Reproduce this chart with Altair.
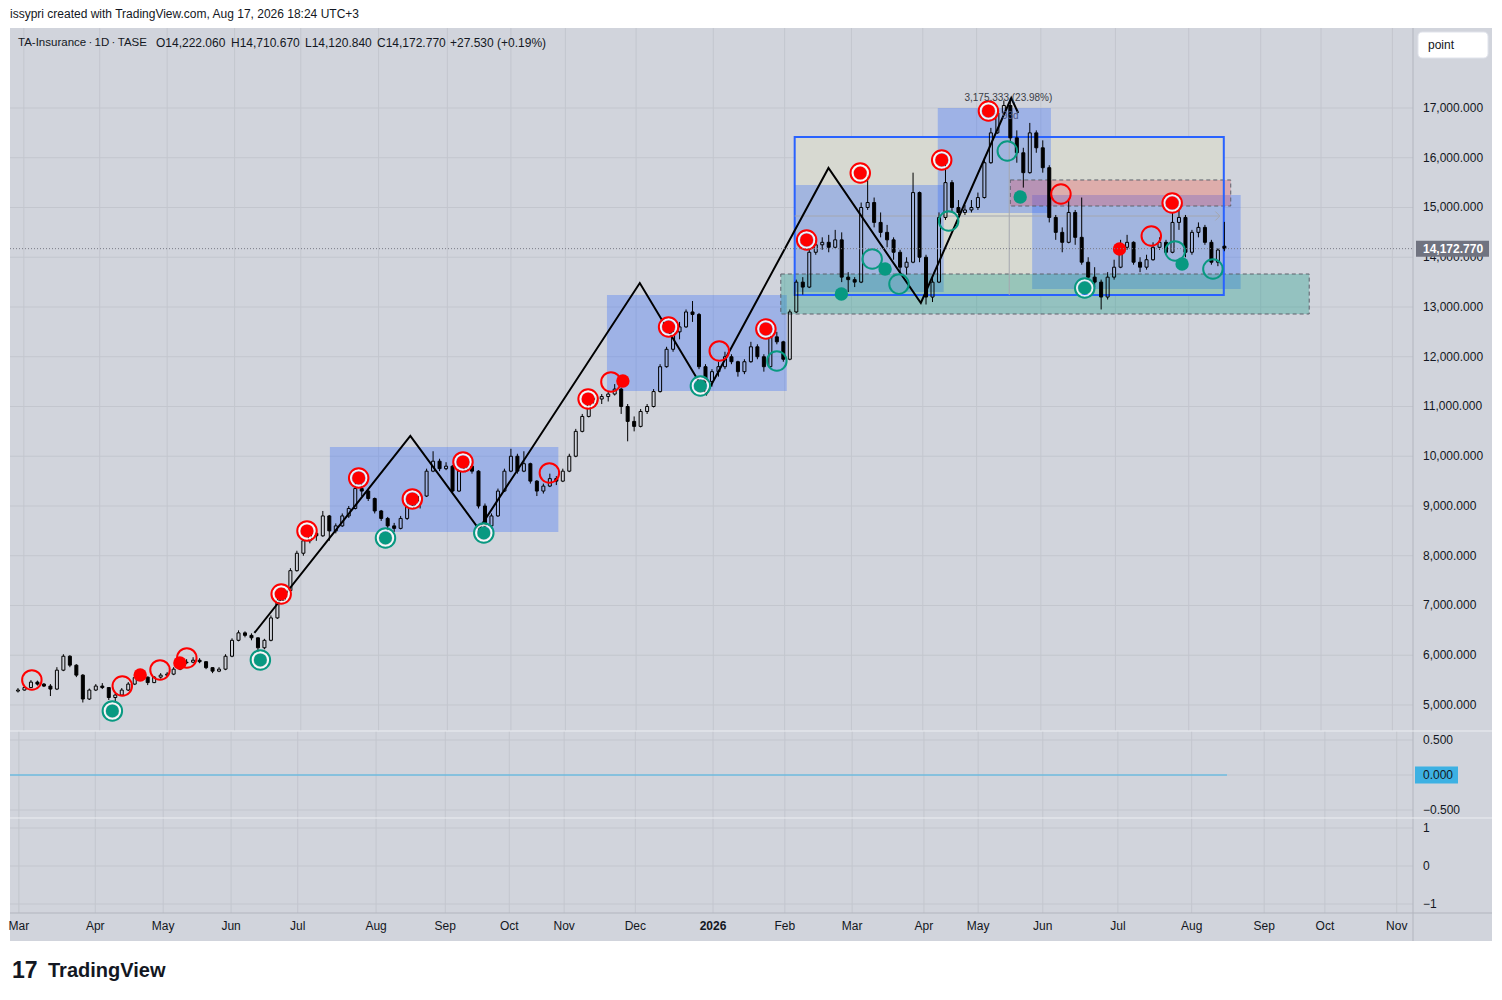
import altair as alt
import pandas as pd

FONT = "Liberation Sans"
BG = "#d1d4dc"
GRID = "#c3c6ce"
TXT = "#131722"
RED = "#ff0000"
TEAL = "#089981"
SEP = "#b2b5be"

W = 1482
H_MAIN = 703
H_P2 = 87
H_P3 = 123
AXIS_X = 1403
LABEL_X = 1413

# ---------------- candles (one candle per ~2 sessions) ----------------
opens = [5280,5300,5350,5460,5420,5380,5320,5700,5980,5800,
5600,5120,5300,5380,5350,5150,5200,5300,5420,5550,
5560,5450,5560,5600,5620,5720,5850,5860,5900,5870,
5750,5680,5720,5980,6300,6450,6400,6350,6150,6300,
6750,7100,7300,7700,8050,8300,8450,8400,8800,8500,
8600,8800,8950,9350,9300,9150,8900,8750,8600,8550,
8750,9000,9100,9200,9700,9900,9750,9800,9300,9700,
9800,9700,9000,8600,8800,9300,9700,10000,9700,9850,
9500,9300,9400,9550,9500,9700,10000,10500,10800,11050,
11150,11200,11250,11350,11000,10700,10600,10900,11000,11300,
11800,12150,12500,12600,12900,12850,11800,11500,11700,11800,
12000,11900,11700,11900,12200,12000,11800,12400,12300,11950,
12900,13500,13400,14100,14250,14300,14200,14350,13600,13550,
13500,15000,15100,14700,14500,14350,14100,13800,13900,15300,
14000,13200,13500,14800,15500,15000,14900,14950,15000,15200,
15900,16500,16900,17050,16400,16100,15700,16500,16200,15800,
14800,14500,14300,14900,14400,13900,13600,13500,13200,13600,
13800,14200,14300,13900,13800,13950,14200,14300,14100,14700,
14800,14100,14500,14600,14300,13900,14222.06]

highs = [5340,5380,5500,5490,5440,5420,5760,6020,6000,5820,
5620,5330,5420,5440,5360,5240,5340,5460,5580,5600,
5570,5580,5640,5660,5760,5880,5920,5960,5940,5880,
5760,5760,6020,6340,6500,6480,6440,6360,6330,6800,
7150,7350,7750,8100,8350,8500,8480,8900,8820,8650,
8850,9000,9600,9450,9320,9170,8920,8780,8660,8800,
9050,9150,9250,9750,10100,9950,9880,9820,9750,9900,
9850,9720,9050,8850,9350,9750,10150,10050,10100,9870,
9520,9450,9650,9600,9750,10050,10550,10850,11100,11200,
11250,11300,11450,11380,11050,10800,10950,11050,11350,11850,
12200,12550,12700,12950,13120,12880,11850,11750,11900,12100,
12050,11920,11950,12300,12250,12050,12450,12500,12320,12950,
13550,13600,14150,14350,14400,14450,14550,14500,13700,13600,
15100,15650,15200,14900,14650,14400,14150,14000,15700,15320,
14050,13600,14900,15900,15550,15150,15050,15150,15300,16000,
16600,17000,17150,17200,16550,16200,16700,16550,16350,15850,
14850,14600,15150,14950,15200,14000,13800,13550,13700,13950,
14350,14450,14320,14000,14050,14300,14400,14350,14900,15000,
14850,14550,14700,14650,14350,14180,14710.67]

lows = [5250,5290,5340,5390,5360,5180,5300,5680,5760,5560,
5050,5100,5280,5320,5100,5080,5180,5280,5400,5500,
5400,5440,5530,5560,5600,5700,5820,5840,5840,5720,
5640,5660,5700,5960,6280,6360,6300,6050,6120,6280,
6730,7080,7280,7680,8000,8250,8300,8380,8300,8450,
8580,8760,8930,9200,9100,8850,8700,8500,8480,8530,
8720,8950,8950,9180,9680,9700,9720,9250,9280,9680,
9650,8950,8500,8550,8780,9280,9680,9650,9680,9450,
9200,9250,9380,9420,9480,9680,9980,10480,10780,11000,
11050,11100,11220,10850,10300,10500,10580,10850,10980,11280,
11780,12100,12350,12580,12700,11750,11350,11400,11600,11750,
11850,11600,11650,11880,11950,11700,11780,12250,11900,11930,
12880,13250,13380,14050,14150,14100,14180,13500,13300,13400,
13480,14950,14600,14400,14200,13950,13700,13650,13880,13900,
13050,13100,13480,14750,14900,14850,14850,14900,14950,15180,
15880,16480,16850,16300,15900,15400,15680,16100,15700,14700,
14350,14100,14280,14250,13850,13550,13400,12950,13150,13550,
13780,14150,13850,13700,13750,13930,14150,14050,14080,14550,
14000,14050,14400,14250,13850,13820,14120.84]

closes = [5300,5350,5460,5420,5380,5320,5700,5980,5800,5600,
5120,5300,5380,5350,5150,5200,5300,5420,5550,5560,
5450,5560,5600,5620,5720,5850,5860,5900,5870,5750,
5680,5720,5980,6300,6450,6400,6350,6150,6300,6750,
7100,7300,7700,8050,8300,8450,8400,8800,8500,8600,
8800,8950,9350,9300,9150,8900,8750,8600,8550,8750,
9000,9100,9200,9700,9900,9750,9800,9300,9700,9800,
9700,9000,8600,8800,9300,9700,10000,9700,9850,9500,
9300,9400,9550,9500,9700,10000,10500,10800,11050,11150,
11200,11250,11350,11000,10700,10600,10900,11000,11300,11800,
12150,12500,12600,12900,12850,11800,11500,11700,11800,12000,
11900,11700,11900,12200,12000,11800,12400,12300,11950,12900,
13500,13400,14100,14250,14300,14200,14350,13600,13550,13500,
15000,15100,14700,14500,14350,14100,13800,13900,15300,14000,
13200,13500,14800,15500,15000,14900,14950,15000,15200,15900,
16500,16900,17050,16400,16100,15700,16500,16200,15800,14800,
14500,14300,14900,14400,13900,13600,13500,13200,13600,13800,
14200,14300,13900,13800,13950,14200,14300,14100,14700,14800,
14100,14500,14600,14300,13900,14145.24,14172.77]

# ---------------- axes ----------------
month_labels = ["Mar","Apr","May","Jun","Jul","Aug","Sep","Oct","Nov","Dec","2026",
                "Feb","Mar","Apr","May","Jun","Jul","Aug","Sep","Oct","Nov"]
month_pos = [0.9,12.6,23.0,33.4,43.6,55.6,66.2,76.0,84.4,95.3,107.2,
             118.2,128.5,139.5,147.8,157.7,169.2,180.5,191.6,200.9,211.9]
month_bold = [False]*10 + [True] + [False]*10
price_ticks = [5000,6000,7000,8000,9000,10000,11000,12000,13000,14000,15000,16000,17000]
osc_ticks = [0.5, 0.0, -0.5]
sig_ticks = [1, 0, -1]

# ---------------- drawings ----------------
zz_u = [36.45, 60.49, 71.06, 95.87, 106.13, 124.96, 139.20, 153.14, 154.21]
zz_p = [6447, 10407, 8538, 13482, 11251, 15794, 13080, 17201, 16900]

box_u1 = [48.09, 90.81, 119.75, 141.81, 156.36]
box_u2 = [83.31, 118.53, 142.72, 159.26, 188.51]
box_p1 = [8478, 11311, 13302, 14890, 13362]
box_p2 = [10186, 13241, 15452, 17000, 15251]

range_u = [119.75, 185.91]
range_p = [13242, 16417]
range_mid_u = 152.83
range_mid_p = 14829
range_label = "3,175.333 (23.98%)"
range_days = "93d"

green_u = [117.61, 199.08]
green_p = [12859, 13663]
red_u = [152.99, 186.98]
red_p = [15030, 15553]

red_ring_u = [2.14, 16.08, 21.90, 26.03, 81.93, 91.42, 108.12, 160.80, 174.73]
red_ring_p = [5503, 5382, 5704, 5945, 9664, 11493, 12116, 15271, 14427]
red_double_u = [40.58, 44.56, 52.53, 60.80, 68.61, 87.90, 100.31, 115.31, 121.59, 129.86, 142.42, 149.62, 177.95]
red_double_p = [7231, 8498, 9563, 9141, 9885, 11151, 12598, 12558, 14347, 15693, 15955, 16940, 15090]
red_dot_u = [18.84, 24.96, 93.26, 169.83]
red_dot_p = [5603, 5845, 11513, 14166]
teal_double_u = [14.55, 37.37, 56.66, 71.82, 105.21, 164.47]
teal_double_p = [4880, 5905, 8357, 8458, 11412, 13382]
teal_ring_u = [117.0, 131.7, 135.83, 143.49, 152.53, 178.41, 184.23]
teal_ring_p = [11915, 13965, 13462, 14729, 16136, 14126, 13764]
teal_dot_u = [126.95, 133.69, 154.52, 179.48]
teal_dot_p = [13261, 13764, 15211, 13864]

osc_line_u = [-0.459, 185.91]
osc_value = 0.0

header_parts = ["TA-Insurance\u2009\u00b7\u20091D\u2009\u00b7\u2009TASE", "O14,222.060", "H14,710.670",
                "L14,120.840", "C14,172.770", "+27.530 (+0.19%)"]
header_x = [8, 146, 221, 295, 367, 440]
header_size = [11.5, 12, 12, 12, 12, 12]
credit = "issypri created with TradingView.com, Aug 17, 2026 18:24 UTC+3"

# ---------------- scales ----------------
xs = alt.Scale(domain=[-0.459, 226.49], nice=False, zero=False)
ys_main = alt.Scale(domain=[4477, 18608], nice=False, zero=False)
ys_p2 = alt.Scale(domain=[-0.6143, 0.6286], nice=False, zero=False)
ys_p3 = alt.Scale(domain=[-1.9737, 1.2632], nice=False, zero=False)


def X(f):
    return alt.X(f, type="quantitative", scale=xs, axis=None)


def Y(f, s):
    return alt.Y(f, type="quantitative", scale=s, axis=None)


one = pd.DataFrame({"k": [0]})
mdf = pd.DataFrame({"u": month_pos, "lab": month_labels, "bold": month_bold})


def text_at(txt, x, y, size=12, weight="normal", align="left", color=TXT):
    return alt.Chart(pd.DataFrame({"t": [txt]})).mark_text(
        align=align, baseline="middle", font=FONT, fontSize=size, fontWeight=weight, color=color
    ).encode(x=alt.value(x), y=alt.value(y), text="t:N")


def vgrid(h):
    return alt.Chart(mdf).mark_rule(color=GRID, strokeWidth=1).encode(
        x=X("u"), y=alt.value(0), y2=alt.value(h))


def hgrid(vals, s):
    return alt.Chart(pd.DataFrame({"p": vals})).mark_rule(color=GRID, strokeWidth=1).encode(
        y=Y("p", s), x=alt.value(0), x2=alt.value(AXIS_X))


def vsep(h):
    return alt.Chart(one).mark_rule(color=SEP, strokeWidth=1).encode(
        x=alt.value(AXIS_X), y=alt.value(0), y2=alt.value(h))


def hline(y, color):
    return alt.Chart(one).mark_rule(color=color, strokeWidth=1).encode(
        y=alt.value(y), x=alt.value(0), x2=alt.value(W))


def ylabels(vals, s, fmt):
    return alt.Chart(pd.DataFrame({"p": vals})).mark_text(
        align="left", baseline="middle", font=FONT, fontSize=12, color=TXT
    ).encode(y=Y("p", s), x=alt.value(LABEL_X), text=alt.Text("p:Q", format=fmt))


def pts(us, ps):
    return pd.DataFrame({"u": us, "p": ps})


def ring(df, color, size, sw=2, op=1):
    return alt.Chart(df).mark_point(shape="circle", filled=False, size=size, strokeWidth=sw,
                                    color=color, opacity=op).encode(x=X("u"), y=Y("p", ys_main))


def dot(df, color, size):
    return alt.Chart(df).mark_point(shape="circle", filled=True, size=size, strokeWidth=0,
                                    color=color, opacity=1).encode(x=X("u"), y=Y("p", ys_main))


# ---------------- main panel ----------------
box_df = pd.DataFrame({"u1": box_u1, "u2": box_u2, "p1": box_p1, "p2": box_p2})
range_df = pd.DataFrame({"u1": [range_u[0]], "u2": [range_u[1]], "p1": [range_p[0]], "p2": [range_p[1]]})
green_df = pd.DataFrame({"u1": [green_u[0]], "u2": [green_u[1]], "p1": [green_p[0]], "p2": [green_p[1]]})
red_df = pd.DataFrame({"u1": [red_u[0]], "u2": [red_u[1]], "p1": [red_p[0]], "p2": [red_p[1]]})


def rect_layer(df, **kw):
    return alt.Chart(df).mark_rect(**kw).encode(
        x=X("u1"), x2=alt.X2("u2"), y=Y("p1", ys_main), y2=alt.Y2("p2"))


range_fill = rect_layer(range_df, color="#d7d9d1", opacity=1)
boxes = rect_layer(box_df, color="#2962ff", opacity=0.3)
green_zone = rect_layer(green_df, fill="#089981", fillOpacity=0.3, stroke="#5d606b",
                        strokeDash=[4, 3], strokeWidth=1)
red_zone = rect_layer(red_df, fill="#f23645", fillOpacity=0.27, stroke="#5d606b",
                      strokeDash=[4, 3], strokeWidth=1)
range_frame = rect_layer(range_df, fill="transparent", stroke="#2962ff", strokeWidth=2)

mid_df = pd.DataFrame({"u": [range_mid_u], "p1": [range_p[0]], "p2": [16880],
                       "u1": [range_u[0]], "u2": [185.3], "pm": [range_mid_p]})
v_meas = alt.Chart(mid_df).mark_rule(color="#a4a7b0", strokeWidth=1).encode(
    x=X("u"), y=Y("p1", ys_main), y2=alt.Y2("p2"))
h_meas = alt.Chart(mid_df).mark_rule(color="#a4a7b0", strokeWidth=1).encode(
    x=X("u1"), x2=alt.X2("u2"), y=Y("pm", ys_main))
h_arrow = alt.Chart(mid_df).mark_point(shape="M-1,-1L0,0L-1,1", filled=False, size=80,
                                       color="#a4a7b0", strokeWidth=1, opacity=1).encode(
    x=X("u2"), y=Y("pm", ys_main))
meas_txt = alt.Chart(pd.DataFrame({"u": [152.7, 153.0], "p": [17201, 16839],
                                   "t": [range_label, range_days]})).mark_text(
    font=FONT, fontSize=10, baseline="middle", align="center"
).encode(x=X("u"), y=Y("p", ys_main), text="t:N",
         color=alt.condition("datum.t == '93d'", alt.value("#4a5580"), alt.value("#3a3d46")))

cdf = pd.DataFrame({"u": list(range(len(closes))), "o": opens, "h": highs, "l": lows, "c": closes})
cbase = alt.Chart(cdf).transform_calculate(top="max(datum.o, datum.c)", bot="min(datum.o, datum.c)")
wick_hi = cbase.mark_rule(color="black", strokeWidth=1).encode(
    x=X("u"), y=Y("h", ys_main), y2=alt.Y2("top:Q"))
wick_lo = cbase.mark_rule(color="black", strokeWidth=1).encode(
    x=X("u"), y=Y("bot:Q", ys_main), y2=alt.Y2("l"))
bodies = cbase.mark_bar(size=3, stroke="black", strokeWidth=1).encode(
    x=X("u"), y=Y("o", ys_main), y2=alt.Y2("c"),
    fill=alt.condition("datum.c >= datum.o", alt.value("transparent"), alt.value("black")))

zz = alt.Chart(pd.DataFrame({"u": zz_u, "p": zz_p, "k": list(range(len(zz_u)))})).mark_line(
    color="black", strokeWidth=2).encode(x=X("u"), y=Y("p", ys_main), order="k:Q")

rd = pts(red_double_u, red_double_p)
td = pts(teal_double_u, teal_double_p)
markers = [
    ring(pts(red_ring_u, red_ring_p), RED, 380),
    ring(rd, "white", 256, 2, 0.85), ring(rd, RED, 380), dot(rd, RED, 170),
    dot(pts(red_dot_u, red_dot_p), RED, 180),
    ring(td, "white", 256, 2, 0.85), ring(td, TEAL, 380), dot(td, TEAL, 170),
    ring(pts(teal_ring_u, teal_ring_p), TEAL, 380),
    dot(pts(teal_dot_u, teal_dot_p), TEAL, 180),
]

last_df = pd.DataFrame({"p": [closes[-1]]})
price_line = alt.Chart(last_df).mark_rule(color="#787b86", strokeWidth=1, strokeDash=[1, 2]).encode(
    y=Y("p", ys_main), x=alt.value(0), x2=alt.value(AXIS_X))
price_tag = alt.Chart(last_df).mark_point(shape="M-1,-0.219H1V0.219H-1Z", size=5329, filled=True,
                                          color="#707380", opacity=1, strokeWidth=0).encode(
    y=Y("p", ys_main), x=alt.value(1442.5))
price_txt = alt.Chart(last_df).mark_text(align="left", baseline="middle", font=FONT, fontSize=12,
                                         fontWeight="bold", color="white").encode(
    y=Y("p", ys_main), x=alt.value(LABEL_X), text=alt.Text("p:Q", format=",.3f"))

point_box = alt.Chart(one).mark_rect(fill="white", cornerRadius=4, stroke="#e0e3eb").encode(
    x=alt.value(1408), x2=alt.value(1478), y=alt.value(4), y2=alt.value(30))

header_layers = [text_at(t, x, 15, size=s) for t, x, s in zip(header_parts, header_x, header_size)]

main = alt.layer(
    hgrid(price_ticks, ys_main), vgrid(H_MAIN),
    range_fill, boxes, green_zone, red_zone, range_frame,
    v_meas, h_meas, h_arrow,
    wick_hi, wick_lo, bodies, zz, *markers, meas_txt,
    price_line, ylabels(price_ticks, ys_main, ",.3f"), price_tag, price_txt,
    vsep(H_MAIN), point_box, text_at("point", 1418, 17),
    *header_layers, text_at(credit, 0, -14),
).properties(width=W, height=H_MAIN)

# ---------------- oscillator panel ----------------
osc_df = pd.DataFrame({"u1": [osc_line_u[0]], "u2": [osc_line_u[1]], "p": [osc_value]})
osc_line = alt.Chart(osc_df).mark_rule(color="#42b4e6", strokeWidth=1).encode(
    x=X("u1"), x2=alt.X2("u2"), y=Y("p", ys_p2))
osc_tag = alt.Chart(osc_df).mark_point(shape="M-1,-0.395H1V0.395H-1Z", size=1849, filled=True,
                                       color="#3db1e3", opacity=1, strokeWidth=0).encode(
    y=Y("p", ys_p2), x=alt.value(1426.5))
osc_txt = alt.Chart(osc_df).mark_text(align="left", baseline="middle", font=FONT, fontSize=12,
                                      color=TXT).encode(
    y=Y("p", ys_p2), x=alt.value(LABEL_X), text=alt.Text("p:Q", format=".3f"))

p2 = alt.layer(
    hgrid(osc_ticks, ys_p2), vgrid(H_P2), osc_line,
    ylabels(osc_ticks, ys_p2, ".3f"), osc_tag, osc_txt,
    vsep(H_P2), hline(0, "#eceef2"),
).properties(width=W, height=H_P2)

# ---------------- signal panel + time axis ----------------
months_norm = alt.Chart(mdf).transform_filter("!datum.bold").mark_text(
    align="center", baseline="middle", font=FONT, fontSize=12, color=TXT).encode(
    x=X("u"), y=alt.value(108), text="lab:N")
months_bold = alt.Chart(mdf).transform_filter("datum.bold").mark_text(
    align="center", baseline="middle", font=FONT, fontSize=12, fontWeight="bold", color=TXT).encode(
    x=X("u"), y=alt.value(108), text="lab:N")

p3 = alt.layer(
    hgrid(sig_ticks, ys_p3), vgrid(95),
    ylabels(sig_ticks, ys_p3, "d"),
    hline(95, SEP), vsep(H_P3), hline(0, "#eceef2"),
    months_norm, months_bold,
    text_at("17", 2, 153, size=23, weight="bold"),
    text_at("TradingView", 38, 153, size=20, weight="bold"),
).properties(width=W, height=H_P3)

chart = alt.vconcat(main, p2, p3, spacing=0, bounds="flush").properties(
    padding={"left": 0, "top": 0, "right": 0, "bottom": 0}, background="white"
).configure_view(fill=BG, strokeWidth=0)

chart.save("out.html", embed_options={"renderer": "svg", "actions": False})
